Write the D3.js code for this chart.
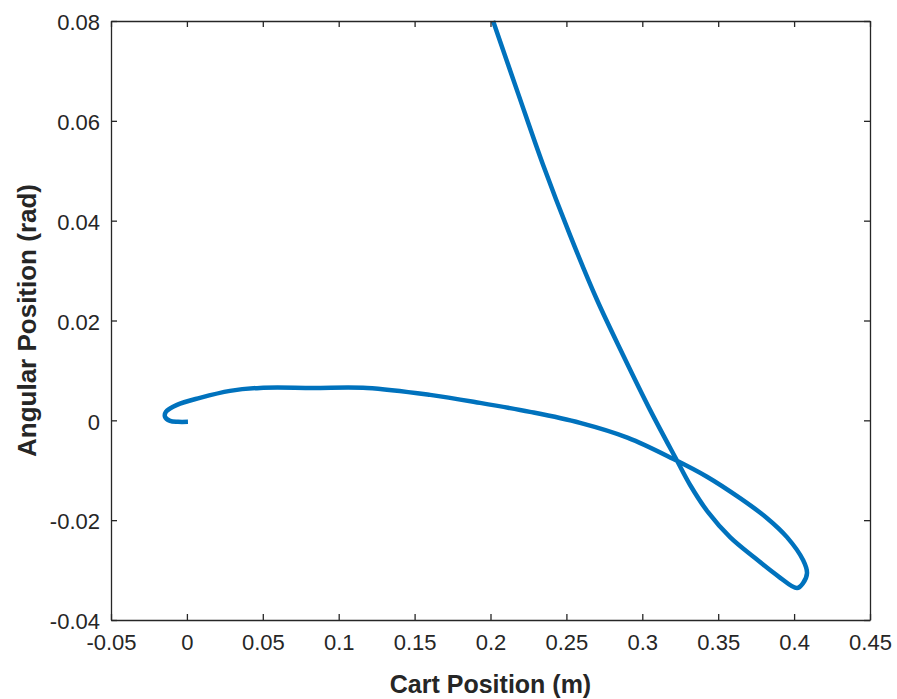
<!DOCTYPE html>
<html>
<head>
<meta charset="utf-8">
<script src="https://cdn.jsdelivr.net/npm/d3@7"></script>
<style>
  html, body { margin: 0; padding: 0; background: #ffffff; }
  svg { display: block; }
  text { font-family: "Liberation Sans", Arial, Helvetica, sans-serif; fill: #262626; }
</style>
</head>
<body>
<svg id="chart" width="897" height="699"></svg>
<script>
// ---- data ----
const cartPosition = [
  0.2017, 0.2185, 0.2346, 0.2524, 0.2702, 0.2873, 0.3051, 0.3229,
  0.3314, 0.3433, 0.3578, 0.3743, 0.3894, 0.4019,
  0.4059, 0.4085, 0.4059, 0.3953, 0.3822, 0.3644, 0.3426, 0.3202,
  0.2906, 0.2590, 0.2260, 0.1931, 0.1602, 0.1187, 0.0831, 0.0482, 0.0284,
  0.0086, -0.0065, -0.0138, -0.0144, -0.0111, -0.0059, 0.0007
];
const angularPosition = [
  0.0800, 0.0652, 0.0512, 0.0371, 0.0241, 0.0131, 0.0021, -0.0081,
  -0.0129, -0.0184, -0.0234, -0.0276, -0.0312, -0.0336,
  -0.0326, -0.0306, -0.0280, -0.0234, -0.0196, -0.0156, -0.0113, -0.0077,
  -0.0035, -0.0005, 0.0017, 0.0035, 0.0051, 0.0065, 0.0065, 0.0065, 0.0059,
  0.0045, 0.0031, 0.0017, 0.0007, -0.0001, -0.0003, -0.0003
];
const xTicks = [-0.05, 0, 0.05, 0.1, 0.15, 0.2, 0.25, 0.3, 0.35, 0.4, 0.45];
const xTickLabels = ["-0.05", "0", "0.05", "0.1", "0.15", "0.2", "0.25", "0.3", "0.35", "0.4", "0.45"];
const yTicks = [-0.04, -0.02, 0, 0.02, 0.04, 0.06, 0.08];
const yTickLabels = ["-0.04", "-0.02", "0", "0.02", "0.04", "0.06", "0.08"];
const xLabel = "Cart Position (m)";
const yLabel = "Angular Position (rad)";

// ---- layout ----
const mLeft = 111, mRight = 870, mTop = 21, mBottom = 620;
const axisColor = "#262626";
const labelColor = "#333333";
const tickLen = 6;

const svg = d3.select("#chart");
const x = d3.scaleLinear().domain([-0.05, 0.45]).range([mLeft, mRight]);
const y = d3.scaleLinear().domain([-0.04, 0.08]).range([mBottom, mTop]);

// data line
const pts = cartPosition.map((v, i) => [v, angularPosition[i]]);
const line = d3.line().x(d => x(d[0])).y(d => y(d[1])).curve(d3.curveCatmullRom.alpha(0.5));
svg.append("path")
  .datum(pts)
  .attr("d", line)
  .attr("fill", "none")
  .attr("stroke", "#0072BD")
  .attr("stroke-width", 4.5)
  .attr("stroke-linejoin", "round")
  .attr("stroke-linecap", "butt");

// axes (MATLAB style box with inward ticks)
const fmtX = (d, i) => xTickLabels[i];
const fmtY = (d, i) => yTickLabels[i];

const gx = svg.append("g").attr("transform", `translate(0,${mBottom})`)
  .call(d3.axisBottom(x).tickValues(xTicks).tickFormat(fmtX).tickSizeInner(-tickLen).tickSizeOuter(0).tickPadding(14));
const gxTop = svg.append("g").attr("transform", `translate(0,${mTop})`)
  .call(d3.axisTop(x).tickValues(xTicks).tickFormat("").tickSizeInner(-tickLen).tickSizeOuter(0));
const gy = svg.append("g").attr("transform", `translate(${mLeft},0)`)
  .call(d3.axisLeft(y).tickValues(yTicks).tickFormat(fmtY).tickSizeInner(-tickLen).tickSizeOuter(0).tickPadding(11));
const gyRight = svg.append("g").attr("transform", `translate(${mRight},0)`)
  .call(d3.axisRight(y).tickValues(yTicks).tickFormat("").tickSizeInner(-tickLen).tickSizeOuter(0));

[gx, gxTop, gy, gyRight].forEach(g => {
  g.select(".domain").attr("stroke", axisColor).attr("stroke-width", 1.3);
  g.selectAll(".tick line").attr("stroke", axisColor).attr("stroke-width", 1.3);
  g.selectAll(".tick text")
    .attr("fill", labelColor)
    .style("font-family", "'Liberation Sans', Arial, sans-serif")
    .style("font-size", "22px");
});
gx.selectAll(".tick text").attr("dy", "0.71em");
gy.selectAll(".tick text").attr("dy", "0.4em");

// axis titles
svg.append("text")
  .attr("x", (mLeft + mRight) / 2)
  .attr("y", 693)
  .attr("text-anchor", "middle")
  .style("font-size", "25px")
  .style("font-weight", "bold")
  .text(xLabel);

svg.append("text")
  .attr("transform", `translate(36,${(mTop + mBottom) / 2}) rotate(-90)`)
  .attr("text-anchor", "middle")
  .style("font-size", "26px")
  .style("font-weight", "bold")
  .text(yLabel);
</script>
</body>
</html>
